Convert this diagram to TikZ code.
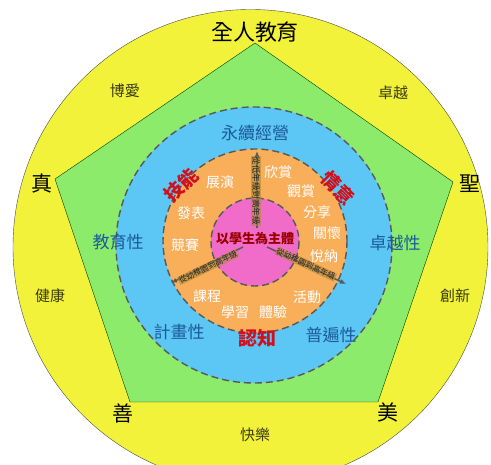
\documentclass[tikz,border=0pt]{standalone}
\usepackage{fontspec}
\setmainfont{Noto Sans CJK TC}
\usetikzlibrary{calc, arrows.meta}
\definecolor{ringyellow}{HTML}{F2F23A}
\definecolor{pentgreen}{HTML}{8DEB6B}
\definecolor{ringblue}{HTML}{5CC6F4}
\definecolor{ringorange}{HTML}{F9AE5A}
\definecolor{ringpink}{HTML}{F06CC8}
\definecolor{wordblue}{HTML}{1C5A9C}
\definecolor{wordolive}{HTML}{3A3A14}
\definecolor{wordred}{HTML}{D0101E}
\definecolor{bandgold}{HTML}{B08A3A}
\tikzset{
  every node/.style={inner sep=1pt},
  ring/.style={draw=black!65, dash pattern=on 7pt off 4pt, line width=1.4pt},
  virtue/.style={font=\fontsize{21}{21}\selectfont},
  value/.style={font=\fontsize{15}{15}\selectfont, text=wordolive},
  trait/.style={font=\fontsize{17}{17}\selectfont, text=wordblue},
  act/.style={font=\fontsize{14}{14}\selectfont, text=white},
  facet/.style={font=\fontsize{19}{19}\selectfont\bfseries, text=wordred},
  growth/.style={font=\fontsize{8}{8}\selectfont, text=black!85, fill=bandgold, fill opacity=0.6, text opacity=1, inner sep=0.6pt},
  growarrow/.style={draw=black!65, line width=1.5pt, -{Latex[length=6pt,width=5pt]}}
}
\begin{document}
\begin{tikzpicture}[x=1pt,y=-1pt]
\useasboundingbox (0,0) rectangle (491,465);
\begin{scope}
  \clip (0,0) rectangle (491,465);
  \draw[fill=ringyellow, draw=black!70] (250.5,247) circle (237.5);
\end{scope}
\draw[fill=pentgreen, draw=black!75!green] (255,43) -- (453,182) -- (378,402) -- (130,402) -- (55,179) -- cycle;
\draw[ring, fill=ringblue] (254,245) circle (138);
\draw[ring, fill=ringorange] (255,241) circle (92);
\draw[ring, fill=ringpink] (255,242) circle (44);

% outer ring
\node[virtue, font=\fontsize{22}{22}\selectfont] (whole) at (255,32) {全人教育};
\node[virtue] (zhen) at (42,184) {真};
\node[virtue] (sheng) at (470,184) {聖};
\node[virtue] (shan) at (123,413) {善};
\node[virtue] (mei) at (388,413) {美};
\foreach \name/\t/\x/\y in {boai/博愛/125/91, zhuoyue/卓越/393/93, jiankang/健康/50/296, chuangxin/創新/455/296, kuaile/快樂/255/435}
  \node[value] (\name) at (\x,\y) {\t};

% blue ring
\foreach \name/\t/\x/\y in {yongxu/永續經營/255/133, jiaoyu/教育性/118/242, zhuoyuexing/卓越性/395/243, jihua/計畫性/179/332, pubian/普遍性/331/335}
  \node[trait] (\name) at (\x,\y) {\t};

% orange ring
\foreach \name/\t/\x/\y in {zhanyan/展演/220/182, fabiao/發表/191/213, jingsai/競賽/185/245, xinshang/欣賞/278/172, guanshang/觀賞/301/191, fenxiang/分享/317/212, guanhuai/關懷/327/233, yuena/悅納/324/256, kecheng/課程/207/296, xuexi/學習/235/312, tiyan/體驗/273/312, huodong/活動/307/297}
  \node[act] (\name) at (\x,\y) {\t};
\node[facet, rotate=45] (jineng) at (181,185) {技能};
\node[facet, rotate=-45] (qingyi) at (338,188) {情意};
\node[facet] (renzhi) at (257,338) {認知};

% centre
\coordinate (core) at (255,242);
\coordinate (up) at (257,151);
\coordinate (downleft) at (171,283);
\coordinate (downright) at (346,284);
\draw[growarrow] (257,228) -- (up);
\draw[growarrow] ($(core)+(-12,5)$) -- (downleft);
\draw[growarrow] ($(core)+(12,5)$) -- (downright);
\node[growth, font=\fontsize{8.5}{8.5}\selectfont, rotate=-90] (uplabel) at (256,191) {從低年級到高年級};
\node[growth, rotate=26] (leftlabel) at (208,267) {從幼稚園到高年級};
\node[growth, rotate=-25] (rightlabel) at (306,264) {從幼稚園到高年級};
\node[font=\fontsize{13}{13}\selectfont\bfseries, text=red!60!black] (student) at (255,239) {以學生為主體};
\end{tikzpicture}
\end{document}
